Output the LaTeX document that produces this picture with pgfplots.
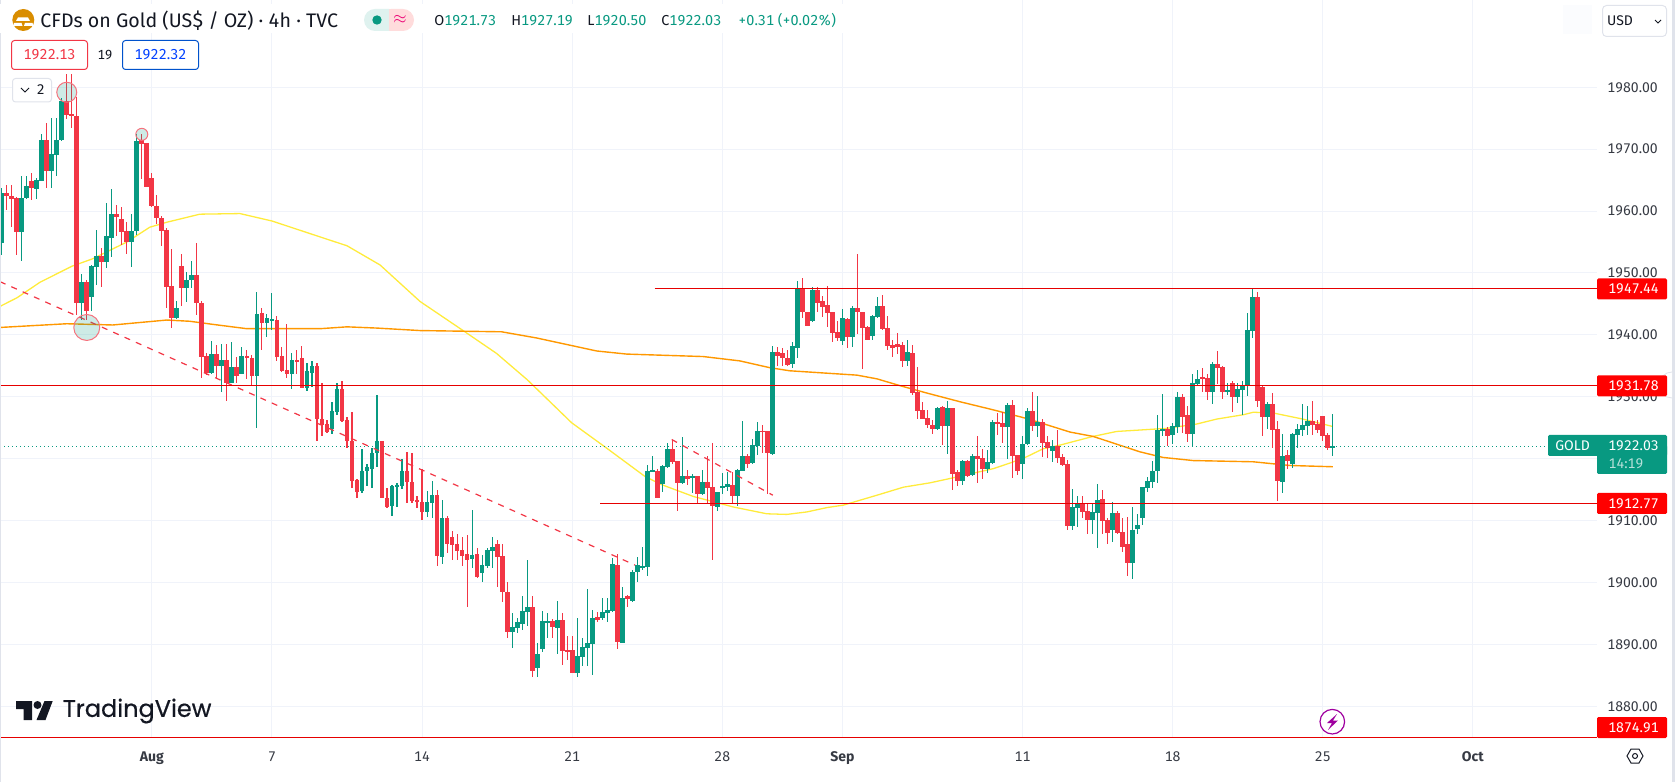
\documentclass[border=0pt]{standalone}
\usepackage{fontspec}
\setmainfont[Numbers={Lining,Monospaced}]{Fira Sans}
\newfontfamily\logofont[FakeBold=0.5]{Poppins}
\usepackage{pgfplots}
\usepackage{pgfplotstable}
\pgfplotsset{compat=1.18}

\definecolor{up}{HTML}{089981}
\definecolor{down}{HTML}{F23645}
\definecolor{gridc}{HTML}{F0F3FA}
\definecolor{ink}{HTML}{131722}
\definecolor{hline}{HTML}{E60000}
\definecolor{boxred}{HTML}{FF0000}
\definecolor{edge}{HTML}{E0E3EB}
\definecolor{maslow}{HTML}{FF9800}
\definecolor{mafast}{HTML}{FFEB3B}

% bar index, open, high, low, close
\pgfplotstableread{
k o h l c
0 1954.9 1963.7 1952.9 1962.9
1 1962.9 1964.2 1960.2 1962.5
2 1962.5 1964.2 1957.4 1962.0
3 1962.1 1962.2 1952.9 1956.6
4 1956.6 1965.6 1952.0 1962.1
5 1962.1 1965.6 1962.0 1964.0
6 1964.9 1966.2 1961.8 1963.8
7 1963.6 1965.3 1962.0 1965.0
8 1964.9 1972.4 1964.8 1971.5
9 1971.5 1974.2 1963.7 1966.5
10 1966.5 1975.0 1963.8 1969.3
11 1969.1 1975.0 1965.6 1971.5
12 1971.5 1978.2 1971.4 1977.8
13 1977.8 1982.1 1974.8 1975.5
14 1975.7 1982.1 1973.4 1975.3
15 1975.4 1978.5 1943.2 1945.2
16 1945.2 1949.8 1942.4 1948.5
17 1948.5 1948.9 1942.4 1943.8
18 1946.2 1951.3 1943.8 1951.1
19 1950.9 1956.9 1948.1 1952.7
20 1952.7 1954.0 1947.8 1951.8
21 1951.8 1961.3 1950.8 1956.0
22 1955.7 1963.5 1952.6 1959.5
23 1959.5 1961.0 1955.9 1959.1
24 1958.7 1960.6 1954.5 1956.7
25 1956.8 1958.3 1953.1 1955.0
26 1955.0 1959.6 1950.9 1956.8
27 1956.8 1972.4 1956.1 1971.3
28 1971.5 1972.4 1965.2 1970.9
29 1971.0 1971.0 1963.9 1963.9
30 1965.3 1966.1 1960.7 1960.8
31 1960.9 1962.6 1957.9 1958.9
32 1958.9 1959.2 1954.3 1956.8
33 1956.9 1957.2 1944.3 1947.8
34 1947.9 1953.8 1941.1 1942.8
35 1942.8 1945.5 1942.6 1944.3
36 1951.1 1953.1 1944.6 1947.6
37 1947.6 1950.2 1945.3 1948.9
38 1948.8 1951.9 1947.5 1949.7
39 1949.6 1954.8 1943.2 1945.1
40 1945.2 1945.4 1933.0 1936.5
41 1936.6 1937.0 1933.6 1933.8
42 1933.8 1939.0 1933.7 1936.9
43 1936.9 1938.3 1932.8 1935.0
44 1935.0 1938.6 1930.8 1936.0
45 1936.0 1938.6 1929.4 1932.3
46 1932.3 1938.9 1932.2 1934.8
47 1934.8 1936.5 1932.3 1933.3
48 1933.7 1938.1 1933.7 1936.6
49 1936.6 1937.6 1932.9 1936.2
50 1936.3 1936.8 1931.9 1933.4
51 1933.4 1946.9 1925.0 1943.4
52 1943.5 1944.3 1937.5 1942.0
53 1942.0 1943.4 1939.6 1942.7
54 1942.3 1946.7 1940.8 1942.5
55 1942.4 1943.1 1935.8 1936.5
56 1936.6 1938.0 1934.0 1934.2
57 1934.3 1941.8 1933.0 1933.7
58 1933.7 1937.0 1931.3 1936.0
59 1936.0 1937.6 1933.7 1935.6
60 1936.2 1938.2 1931.4 1931.4
61 1931.4 1935.4 1931.0 1934.2
62 1933.8 1935.8 1931.6 1935.0
63 1935.0 1935.4 1922.8 1926.4
64 1926.4 1932.2 1923.6 1925.4
65 1925.6 1926.2 1924.2 1924.3
66 1924.8 1929.2 1924.0 1927.7
67 1927.6 1932.2 1927.1 1931.3
68 1931.3 1932.6 1926.0 1926.1
69 1926.2 1926.7 1921.7 1922.8
70 1922.9 1927.6 1915.2 1916.4
71 1916.6 1916.8 1913.7 1914.7
72 1914.8 1921.6 1914.5 1918.0
73 1918.0 1919.2 1915.6 1918.6
74 1918.4 1921.7 1915.3 1921.0
75 1920.9 1930.3 1918.7 1922.8
76 1922.8 1922.9 1913.6 1913.6
77 1913.7 1915.2 1912.0 1912.2
78 1912.3 1915.8 1910.7 1915.6
79 1915.5 1916.0 1912.2 1915.8
80 1915.6 1919.9 1915.1 1918.0
81 1918.0 1921.1 1912.9 1916.2
82 1916.2 1920.9 1912.9 1913.2
83 1913.3 1914.0 1912.0 1913.0
84 1913.0 1918.3 1910.1 1911.4
85 1911.4 1914.8 1910.6 1913.0
86 1912.9 1916.4 1910.5 1914.1
87 1914.1 1915.0 1902.6 1904.3
88 1904.2 1913.3 1903.0 1910.4
89 1910.4 1910.7 1904.7 1906.3
90 1907.3 1908.4 1903.6 1906.1
91 1906.2 1907.8 1903.7 1905.1
92 1905.2 1907.3 1902.7 1904.3
93 1904.6 1907.7 1896.1 1903.6
94 1903.8 1911.7 1902.4 1904.4
95 1904.6 1905.5 1900.8 1900.9
96 1901.6 1904.4 1900.1 1902.8
97 1902.7 1905.5 1902.3 1905.2
98 1905.1 1907.3 1902.4 1905.7
99 1906.2 1906.9 1899.3 1904.2
100 1904.3 1906.2 1896.9 1898.5
101 1898.5 1900.1 1891.1 1892.0
102 1892.0 1895.0 1889.5 1892.8
103 1892.6 1894.2 1891.9 1893.6
104 1893.3 1897.8 1892.3 1895.4
105 1895.2 1903.6 1893.0 1896.0
106 1896.0 1897.8 1884.8 1885.7
107 1886.2 1890.3 1884.8 1888.4
108 1889.2 1895.4 1888.8 1893.8
109 1893.6 1895.0 1891.1 1893.8
110 1893.8 1894.1 1891.1 1892.8
111 1892.6 1897.0 1888.4 1893.9
112 1893.9 1895.0 1886.6 1888.9
113 1889.1 1891.3 1887.4 1888.9
114 1889.1 1891.3 1885.3 1885.4
115 1885.4 1894.3 1884.8 1888.1
116 1888.0 1891.0 1886.5 1889.6
117 1889.4 1898.9 1886.5 1890.2
118 1890.1 1895.6 1885.0 1894.3
119 1894.4 1895.3 1893.6 1893.9
120 1894.3 1897.5 1893.9 1895.2
121 1895.1 1897.5 1893.7 1895.6
122 1895.4 1904.0 1895.3 1903.0
123 1902.8 1904.6 1889.3 1890.4
124 1890.2 1899.3 1890.2 1897.5
125 1897.8 1898.0 1896.1 1897.4
126 1897.0 1902.1 1896.9 1901.7
127 1901.7 1904.2 1900.0 1902.8
128 1902.5 1905.7 1902.0 1902.6
129 1902.5 1919.0 1901.0 1918.0
130 1917.9 1920.4 1917.9 1918.2
131 1918.0 1918.3 1913.6 1913.6
132 1915.9 1919.0 1914.7 1918.8
133 1918.7 1922.5 1918.5 1921.6
134 1921.6 1923.1 1919.1 1919.5
135 1919.6 1919.6 1911.5 1916.1
136 1916.1 1923.5 1915.9 1917.2
137 1917.2 1918.2 1915.7 1916.7
138 1917.0 1917.6 1914.4 1917.2
139 1917.2 1917.2 1912.7 1914.3
140 1914.3 1918.2 1914.1 1916.2
141 1916.2 1920.4 1912.7 1915.3
142 1915.4 1922.5 1903.6 1912.3
143 1912.2 1914.7 1911.5 1914.6
144 1915.3 1917.7 1914.3 1915.6
145 1915.5 1917.8 1914.8 1915.9
146 1915.7 1917.9 1912.7 1914.0
147 1914.0 1918.3 1912.3 1918.2
148 1918.0 1926.1 1918.0 1920.4
149 1920.4 1920.7 1918.5 1919.1
150 1919.3 1923.2 1919.2 1922.2
151 1922.0 1925.9 1920.6 1924.5
152 1924.5 1925.4 1920.9 1924.4
153 1924.5 1924.5 1914.3 1920.9
154 1920.8 1938.2 1920.6 1937.2
155 1937.2 1938.0 1935.0 1936.6
156 1937.1 1937.9 1935.0 1936.2
157 1936.3 1937.5 1935.0 1935.1
158 1935.3 1938.9 1934.7 1938.2
159 1937.9 1948.7 1936.2 1947.5
160 1947.5 1949.2 1942.7 1943.7
161 1943.7 1943.7 1941.4 1941.4
162 1942.2 1947.7 1942.1 1947.3
163 1947.3 1947.7 1943.7 1945.2
164 1945.5 1946.3 1942.9 1944.5
165 1944.8 1947.9 1941.3 1943.5
166 1943.7 1943.7 1938.9 1940.3
167 1940.5 1942.2 1939.0 1939.5
168 1939.0 1944.2 1938.4 1942.7
169 1942.6 1942.7 1937.9 1939.7
170 1939.7 1944.7 1938.0 1944.4
171 1944.4 1953.1 1940.1 1943.7
172 1943.7 1943.7 1934.5 1941.1
173 1941.3 1941.4 1939.2 1939.2
174 1939.8 1943.2 1939.2 1943.1
175 1942.9 1946.1 1942.8 1944.7
176 1944.7 1946.5 1940.8 1941.0
177 1941.1 1943.1 1937.6 1938.2
178 1938.4 1939.2 1936.4 1937.9
179 1938.5 1940.3 1936.9 1938.1
180 1938.4 1938.9 1934.8 1935.8
181 1935.8 1939.2 1935.0 1937.2
182 1937.1 1938.4 1930.3 1930.6
183 1930.8 1934.8 1926.4 1927.7
184 1927.9 1929.2 1926.4 1926.4
185 1926.6 1927.9 1925.0 1925.4
186 1925.4 1926.3 1924.0 1924.8
187 1924.8 1928.4 1924.6 1928.2
188 1928.4 1928.5 1922.2 1925.3
189 1925.3 1929.3 1920.8 1928.2
190 1928.2 1928.2 1914.9 1917.5
191 1917.9 1918.2 1915.6 1916.4
192 1916.4 1919.8 1915.8 1919.6
193 1919.6 1919.8 1917.1 1917.2
194 1917.4 1920.8 1917.2 1920.4
195 1920.4 1923.7 1916.0 1920.0
196 1920.1 1921.6 1916.8 1918.3
197 1918.3 1921.4 1917.7 1919.5
198 1919.3 1926.3 1919.2 1925.9
199 1925.9 1927.4 1923.8 1925.6
200 1925.8 1927.5 1922.5 1925.1
201 1925.1 1929.0 1919.9 1928.7
202 1928.7 1929.5 1916.9 1920.4
203 1920.6 1920.6 1917.4 1918.0
204 1919.1 1923.6 1916.7 1922.4
205 1922.4 1928.2 1922.2 1927.7
206 1927.7 1930.8 1924.5 1925.3
207 1925.3 1930.1 1923.5 1925.9
208 1925.9 1926.4 1920.3 1922.5
209 1922.7 1923.7 1920.1 1921.7
210 1921.3 1923.0 1919.4 1922.1
211 1922.1 1924.6 1919.3 1920.1
212 1920.3 1920.8 1918.8 1919.0
213 1919.1 1919.8 1908.5 1909.1
214 1909.1 1915.1 1908.5 1912.2
215 1912.1 1913.9 1909.0 1912.8
216 1912.8 1914.0 1910.4 1911.4
217 1911.5 1912.8 1907.9 1910.1
218 1910.1 1912.8 1907.9 1911.4
219 1911.3 1915.9 1905.5 1913.3
220 1913.5 1914.9 1907.9 1910.0
221 1910.1 1910.4 1906.2 1908.0
222 1908.5 1913.0 1906.6 1911.2
223 1911.2 1911.5 1907.9 1908.0
224 1908.2 1910.5 1905.0 1905.8
225 1906.3 1910.6 1901.1 1903.2
226 1903.2 1912.2 1900.6 1908.5
227 1908.6 1911.1 1907.9 1909.3
228 1910.5 1915.5 1909.3 1915.4
229 1915.3 1917.1 1914.7 1916.4
230 1916.3 1919.7 1915.3 1918.0
231 1918.0 1927.0 1916.0 1924.6
232 1924.6 1930.4 1923.6 1924.8
233 1924.8 1925.1 1922.1 1923.6
234 1923.9 1925.7 1922.4 1925.3
235 1925.2 1930.8 1924.1 1930.0
236 1930.0 1930.4 1924.1 1926.7
237 1927.1 1928.5 1922.7 1924.0
238 1924.0 1933.7 1922.0 1932.2
239 1932.1 1934.3 1931.9 1932.9
240 1933.2 1934.6 1930.8 1932.9
241 1933.0 1933.7 1929.5 1930.8
242 1930.8 1935.6 1928.8 1935.3
243 1935.3 1937.4 1932.1 1934.6
244 1934.8 1935.0 1929.6 1930.8
245 1930.8 1932.2 1930.3 1931.1
246 1932.2 1932.5 1927.5 1930.0
247 1930.0 1932.2 1929.0 1931.3
248 1931.1 1932.5 1927.0 1931.9
249 1931.7 1943.6 1930.1 1940.8
250 1940.6 1947.4 1939.5 1946.1
251 1946.1 1946.9 1928.4 1929.3
252 1931.6 1931.9 1923.6 1926.7
253 1926.7 1929.2 1924.8 1928.8
254 1928.8 1930.6 1921.7 1924.6
255 1924.8 1926.1 1913.2 1916.4
256 1916.2 1924.0 1914.5 1920.4
257 1920.6 1921.4 1918.4 1919.6
258 1919.1 1924.2 1918.5 1924.0
259 1923.8 1925.6 1921.7 1924.8
260 1924.6 1928.8 1923.6 1925.4
261 1925.3 1928.5 1923.8 1926.1
262 1926.1 1929.3 1923.8 1925.4
263 1925.6 1926.2 1924.1 1924.6
264 1926.9 1926.9 1922.8 1923.7
265 1923.8 1924.1 1921.4 1921.8
266 1921.73 1927.19 1920.50 1922.03
}\candles

\begin{document}
\begin{tikzpicture}
\begin{axis}[
    at={(0,0)}, anchor=south west,
    scale only axis,
    width=798.5pt, height=369pt,
    xmin=-0.34, xmax=318.8,
    ymin=1874.88, ymax=1994.1,
    axis line style={draw=none},
    tick style={draw=none},
    grid=major,
    grid style={gridc, line width=.5pt},
    xtick={30,54,84,114,144,168,204,234,264,294},
    xticklabels={\textbf{Aug},7,14,21,28,\textbf{Sep},11,18,25,\textbf{Oct}},
    ytick={1880,1890,...,1980},
    % 1920.00 sits under the GOLD box in the reference
    yticklabels={1880.00,1890.00,1900.00,1910.00,,1930.00,1940.00,1950.00,1960.00,1970.00,1980.00},
    yticklabel pos=right,
    tick label style={font=\fontsize{7}{8}\selectfont, text=ink!85},
    yticklabel style={inner sep=0pt, xshift=5pt},
    xticklabel style={inner sep=0pt, yshift=-6.5pt},
    major tick length=0pt,
]
% moving averages, under the candles
\addplot[color=mafast, line width=.65pt, line join=round] coordinates {
(-0.34,1944.6) (3.06,1946.0) (7.65,1948.5) (14.05,1951.1) (18.2,1952.3) (25.0,1955.0)
(29.6,1957.4) (33.0,1958.2) (39.6,1959.5) (47.6,1959.6) (54.0,1958.4) (65.6,1955.3)
(69.0,1954.4) (75.6,1951.3) (83.6,1945.4) (92.2,1940.7) (98.9,1937.0) (105.1,1932.7)
(113.9,1925.8) (120.9,1921.7) (128.6,1917.1) (131.9,1915.8) (138.2,1913.9) (146.2,1912.2)
(152.9,1911.1) (156.9,1911.0) (160.9,1911.4) (164.9,1912.1) (168.2,1912.5) (174.9,1914.1)
(180.2,1915.4) (185.5,1916.1) (189.5,1916.8) (198.2,1918.4) (201.5,1919.3) (204.8,1920.3)
(208.1,1921.6) (211.5,1922.2) (218.1,1923.6) (222.8,1924.4) (232.8,1924.9) (238.8,1925.6)
(242.8,1926.4) (248.1,1927.1) (250.1,1927.5) (254.0,1927.4) (260.0,1926.4) (266,1925.2)
};
\addplot[color=maslow, line width=.7pt, line join=round] coordinates {
(-0.34,1941.2) (6.3,1941.5) (13.0,1941.8) (22.2,1941.6) (27.6,1942.0) (33.0,1942.4)
(37.6,1942.2) (42.2,1941.7) (49.0,1941.0) (63.6,1941.0) (69.0,1941.3) (75.0,1941.1)
(83.6,1940.7) (99.9,1940.5) (106.9,1939.5) (118.9,1937.4) (124.9,1936.9) (140.2,1936.5)
(147.5,1935.8) (153.5,1934.7) (157.5,1934.2) (170.9,1933.5) (174.9,1932.9) (179.5,1931.8)
(184.9,1930.6) (191.5,1929.2) (198.1,1927.9) (204.8,1926.5) (213.5,1924.3) (218.1,1923.6)
(227.5,1921.1) (232.1,1920.2) (238.1,1919.7) (250.1,1919.5) (257.5,1918.9) (266,1918.7)
};
% last price
\addplot[up, line width=.6pt, dash pattern=on .6pt off 1.4pt] coordinates {(-0.34,1922.03) (318.8,1922.03)};
% wicks
\addplot[draw=none, forget plot, error bars/.cd, y dir=both, y explicit,
    error bar style={up, line width=.55pt}, error mark=none]
    table[x=k, y expr={\thisrow{c}>=\thisrow{o} ? 0.5*(\thisrow{h}+\thisrow{l}) : nan},
          y error expr={0.5*(\thisrow{h}-\thisrow{l})}] {\candles};
\addplot[draw=none, forget plot, error bars/.cd, y dir=both, y explicit,
    error bar style={down, line width=.55pt}, error mark=none]
    table[x=k, y expr={\thisrow{c}<\thisrow{o} ? 0.5*(\thisrow{h}+\thisrow{l}) : nan},
          y error expr={0.5*(\thisrow{h}-\thisrow{l})}] {\candles};
% bodies
\addplot[draw=none, forget plot, error bars/.cd, y dir=both, y explicit,
    error bar style={up, line width=2.4pt}, error mark=none]
    table[x=k, y expr={\thisrow{c}>=\thisrow{o} ? 0.5*(\thisrow{o}+\thisrow{c}) : nan},
          y error expr={0.5*abs(\thisrow{c}-\thisrow{o})}] {\candles};
\addplot[draw=none, forget plot, error bars/.cd, y dir=both, y explicit,
    error bar style={down, line width=2.4pt}, error mark=none]
    table[x=k, y expr={\thisrow{c}<\thisrow{o} ? 0.5*(\thisrow{o}+\thisrow{c}) : nan},
          y error expr={0.5*abs(\thisrow{c}-\thisrow{o})}] {\candles};
% trend lines
\addplot[down, line width=.6pt, dash pattern=on 3pt off 3.2pt] coordinates {(-0.34,1948.6) (126.6,1902.8)};
\addplot[down, line width=.6pt, dash pattern=on 3pt off 3.2pt] coordinates {(133.9,1923.1) (154.1,1914.1)};
% levels
\addplot[hline, line width=.6pt] coordinates {(130.5,1947.44) (318.8,1947.44)};
\addplot[hline, line width=.6pt] coordinates {(-0.34,1931.78) (318.8,1931.78)};
\addplot[hline, line width=.6pt] coordinates {(119.6,1912.77) (318.8,1912.77)};
\addplot[hline, line width=.6pt] coordinates {(-0.34,1874.91) (318.8,1874.91)};
% high and low markers
\addplot[only marks, mark=*, mark size=5pt, mark options={draw=down!70, fill=up, fill opacity=.2, line width=.5pt}] coordinates {(13,1979.2)};
\addplot[only marks, mark=*, mark size=3pt, mark options={draw=down!70, fill=up, fill opacity=.2, line width=.5pt}] coordinates {(28,1972.4)};
\addplot[only marks, mark=*, mark size=6.5pt, mark options={draw=down!70, fill=up, fill opacity=.2, line width=.5pt}] coordinates {(17,1941.2)};
\end{axis}

% everything around the plot, in pixels of the reference from the top left
\begin{scope}[shift={(0,369pt)}, x=.5pt, y=-.5pt]
  \fill[edge] (0,0) rectangle (1,782);
  \fill[edge] (1672,0) rectangle (1675,782);
  \fill[white] (1672,398) arc[start angle=90, end angle=270, radius=13] -- cycle;
  \draw[edge, line width=.4pt] (1672,398) arc[start angle=90, end angle=270, radius=13];

  % title row
  \fill[white] (0,4) rectangle (860,33);
  \fill[orange!70!yellow!85!black] (23.3,20) circle (11);
  \fill[white] (18,17.5) -- (28,17.5) -- (30,21) -- (16,21) -- cycle;
  \fill[white] (14,23) -- (21.5,23) -- (22.5,26) -- (13,26) -- cycle;
  \fill[white] (25,23) -- (32.5,23) -- (33.5,26) -- (24,26) -- cycle;
  \node[anchor=west, inner sep=0pt, text=ink, font=\fontsize{9.8}{11}\selectfont] at (40,20.5) {CFDs on Gold (US\$ / OZ) · 4h · TVC};
  \fill[up!13, rounded corners=5.5] (364,9) rectangle (400,31);
  \fill[pink!55, rounded corners=5.5] (380,9) rectangle (414,31);
  \fill[up!13] (380,9) rectangle (389,31);
  \fill[up] (377,20) circle (4.7);
  \node[text=magenta!80!red, font=\fontsize{8}{9}\selectfont\bfseries, inner sep=0pt] at (400,20) {$\approx$};
  \begin{scope}[font=\fontsize{7.2}{8}\selectfont]
    \node[anchor=west, inner sep=0pt] at (434,20.5) {\textcolor{ink}{O}\textcolor{up}{1921.73}};
    \node[anchor=west, inner sep=0pt] at (511,20.5) {\textcolor{ink}{H}\textcolor{up}{1927.19}};
    \node[anchor=west, inner sep=0pt] at (587,20.5) {\textcolor{ink}{L}\textcolor{up}{1920.50}};
    \node[anchor=west, inner sep=0pt] at (661,20.5) {\textcolor{ink}{C}\textcolor{up}{1922.03}};
    \node[anchor=west, inner sep=0pt, text=up] at (738,20.5) {+0.31 (+0.02\%)};
  \end{scope}

  % buy and sell
  \draw[down, fill=white, line width=.5pt, rounded corners=1.5] (11.5,40.5) rectangle (87.5,69.5);
  \node[text=down, inner sep=0pt, font=\fontsize{7.2}{8}\selectfont] at (49.5,55) {1922.13};
  \node[text=ink, inner sep=0pt, font=\fontsize{6.6}{8}\selectfont] at (105,55) {19};
  \draw[blue!60!cyan!80!black, fill=white, line width=.5pt, rounded corners=1.5] (122.5,40.5) rectangle (198.5,69.5);
  \node[text=blue!75!cyan, inner sep=0pt, font=\fontsize{7.2}{8}\selectfont] at (160.5,55) {1922.32};
  \draw[edge, fill=white, line width=.5pt, rounded corners=1.5] (12.5,78.5) rectangle (51.5,102);
  \draw[ink, line width=.5pt] (21,88) -- (25,92) -- (29,88);
  \node[text=ink, inner sep=0pt, font=\fontsize{7}{8}\selectfont] at (40.7,90) {2};

  % currency button
  \fill[gridc!25] (1563,5) rectangle (1592,34);
  \draw[edge, fill=white, line width=.5pt, rounded corners=2] (1602.5,5.5) rectangle (1666.5,36.5);
  \node[text=ink, inner sep=0pt, font=\fontsize{7}{8}\selectfont] at (1620,21) {USD};
  \draw[ink, line width=.5pt] (1655,20) -- (1658,23) -- (1661,20);

  % price labels
  \foreach \yy/\lab in {289/1947.44, 385.8/1931.78, 503.5/1912.77, 727.5/1874.91}{
    \fill[boxred, rounded corners=.7] (1597,\yy-10.5) rectangle (1667,\yy+10.5);
    \node[text=white, inner sep=0pt, font=\fontsize{7}{8}\selectfont] at (1633.5,\yy) {\lab};
  }
  \fill[up, rounded corners=.7] (1548,435) rectangle (1667,456);
  \fill[up, rounded corners=.7] (1597,445) rectangle (1667,474);
  \node[text=white, inner sep=0pt, font=\fontsize{7}{8}\selectfont] at (1572.5,445.5) {GOLD};
  \node[text=white, inner sep=0pt, font=\fontsize{7}{8}\selectfont] at (1633.5,445.5) {1922.03};
  \node[text=white!70!up, inner sep=0pt, font=\fontsize{7}{8}\selectfont] at (1626,464) {14:19};

  % logo
  \fill[ink] (16,701) -- (32,701) -- (32,720) -- (23.5,720) -- (23.5,709) -- (16,709) -- cycle;
  \fill[ink] (37.5,705) circle (4);
  \fill[ink] (44.5,701) -- (52.7,701) -- (45.5,720) -- (36.5,720) -- cycle;
  \node[anchor=west, inner sep=0pt, text=ink, font=\logofont\fontsize{12}{14}\selectfont] at (62.5,711) {TradingView};

  % lightning badge
  \draw[violet!75!magenta, fill=white, line width=.6pt] (1332.3,721.7) circle (12.3);
  \fill[violet!75!magenta] (1337,714) -- (1327,723) -- (1332,723) -- (1328,730) -- (1338,720.5) -- (1333,720.5) -- cycle;

  % settings
  \draw[ink, line width=.5pt] (1627,756) -- (1631,749) -- (1639,749) -- (1643,756) -- (1639,763) -- (1631,763) -- cycle;
  \draw[ink, line width=.5pt] (1635,756) circle (2.5);
\end{scope}

\pgfresetboundingbox
\path[use as bounding box] (0,-22pt) rectangle (837.5pt,369pt);
\end{tikzpicture}
\end{document}
